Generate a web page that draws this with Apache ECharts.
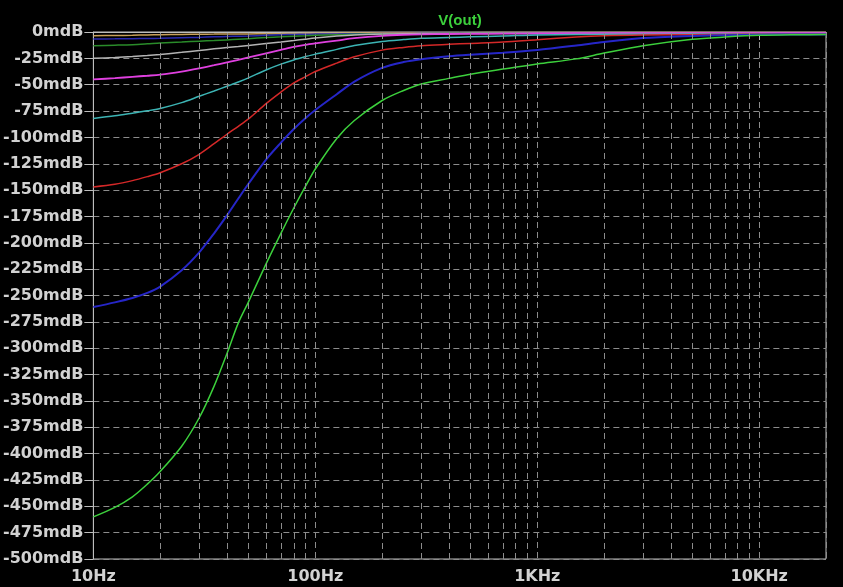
<!DOCTYPE html>
<html><head><meta charset="utf-8">
<script src="https://cdn.jsdelivr.net/npm/echarts@6/dist/echarts.min.js"></script>
<style>html,body{margin:0;padding:0;background:#000;}#c{width:843px;height:587px;}</style>
</head><body><div id="c"></div>
<script>
const freq = [10,12.5,15,17.5,20,25,30,35,40,45,50,60,70,80,90,100,125,150,200,250,300,400,500,700,1000,1500,2000,3000,5000,7000,10000,15000,20000];
const greenVals = [-460,-451,-441,-429,-417,-393,-366,-336,-305,-276,-256,-220,-191,-167,-147,-130,-101,-84,-65,-55.5,-49.3,-44,-40,-35.2,-30.3,-25.5,-20,-13,-6.9,-4.8,-3.2,-2.6,-2.4];
const blueVals = [-261,-256.5,-252.3,-247.5,-241.5,-226,-209,-191,-174,-158,-144,-121,-105,-92,-82,-74,-59,-47,-34,-28.5,-25.8,-23,-21.5,-19.6,-17,-12.8,-9.5,-5.8,-3.8,-3,-2.6,-2.4,-2.3];
const redVals = [-147,-144.5,-141,-137.2,-133.5,-125,-116,-106,-97,-89.5,-82.5,-68,-57,-48.3,-42.6,-37.5,-29.5,-23.5,-17.2,-14.6,-13,-11.7,-10.8,-9.5,-7.3,-4.8,-3.6,-2.9,-2.5,-2.3,-2.2,-2.1,-2.1];
const cyanVals = [-82,-79.5,-77,-74.8,-72.5,-67,-61,-56,-51.5,-47.5,-43.5,-36,-30.5,-26.5,-23.5,-21,-16.5,-12.8,-9,-7.2,-6,-5.2,-4.6,-3.8,-2.8,-2.4,-2.2,-2.1,-2,-2,-2,-2,-2];
const magentaVals = [-45,-43.8,-42.5,-41.5,-40.5,-37.5,-34.4,-31.5,-28.8,-26.4,-24,-20.2,-17,-14.2,-12.2,-10.8,-8.1,-5.9,-3.6,-2.6,-2.2,-1.9,-1.8,-1.6,-1.4,-1.2,-1.1,-1,-1,-1,-1,-1,-1];
const grayVals = [-25,-24.2,-23.3,-22.3,-21.3,-19.3,-17.5,-16,-14.8,-13.8,-12.8,-11,-9.5,-8.1,-6.8,-5.7,-3.9,-2.8,-2,-1.7,-1.5,-1.4,-1.3,-1.2,-1.2,-1.1,-1.1,-1,-1,-1,-1,-1,-1];
const dkGreenVals = [-13,-12.5,-12,-11.2,-10.4,-9.5,-8.7,-8.1,-7.5,-6.9,-6.3,-5.3,-4.6,-4,-3.6,-3.2,-2.6,-2.2,-1.8,-1.7,-1.6,-1.5,-1.5,-1.5,-1.5,-1.5,-1.5,-1.5,-1.5,-1.5,-1.5,-1.5,-1.5];
const navyVals = [-6.6,-6.5,-6.3,-6.1,-6,-5.5,-5.1,-4.6,-4.2,-4,-3.8,-3.1,-2.6,-2.3,-2.1,-2,-1.8,-1.6,-1.5,-1.4,-1.3,-1.3,-1.2,-1.2,-1.2,-1.2,-1.2,-1.2,-1.2,-1.2,-1.2,-1.2,-1.2];
const tanVals = [-3.5,-3.3,-3.1,-2.8,-2.5,-2.3,-2.1,-2,-1.9,-1.85,-1.8,-1.6,-1.5,-1.4,-1.3,-1.2,-1.1,-1,-0.8,-0.7,-0.7,-0.6,-0.6,-0.5,-0.5,-0.5,-0.5,-0.5,-0.5,-0.5,-0.5,-0.5,-0.5];
const xMinorGrid = [20,30,40,50,60,70,80,90,200,300,400,500,600,700,800,900,2000,3000,4000,5000,6000,7000,8000,9000];
const xTickLabels = {10:'10Hz',100:'100Hz',1000:'1KHz',10000:'10KHz'};

const seriesDefs = [
  ['tan', tanVals, '#c8a05a', 1.5],
  ['navy', navyVals, '#2a2ab0', 1.5],
  ['dkgreen', dkGreenVals, '#2a8c2a', 1.5],
  ['gray', grayVals, '#b4b4b4', 1.5],
  ['magenta', magentaVals, '#e040e0', 1.8],
  ['cyan', cyanVals, '#3cb4b4', 1.5],
  ['red', redVals, '#d42828', 1.5],
  ['blue', blueVals, '#2626c8', 2],
  ['green', greenVals, '#3cd03c', 1.5]
];
const fontFam = 'DejaVu Sans';
const labCol = '#d2d2d2';
const gridCol = '#8c8c8c';
const series = seriesDefs.map(function(d){
  return {name:d[0], type:'line', smooth:0.3, showSymbol:false, symbol:'none',
    lineStyle:{color:d[2], width:d[3]}, itemStyle:{color:d[2]},
    data: freq.map(function(f,i){return [f,d[1][i]];}), z:3};
});
series.push({type:'line', data:[], silent:true,
  markLine:{silent:true, symbol:'none', label:{show:false},
    lineStyle:{color:gridCol, type:[6,4], width:1},
    data: xMinorGrid.map(function(v){return {xAxis:v};})}, z:1});
const chart = echarts.init(document.getElementById('c'));
chart.setOption({
  backgroundColor:'#000',
  animation:false,
  title:{text:'V(out)', left:455, top:8, textAlign:'center',
    textStyle:{color:'#3cd03c', fontFamily:'Liberation Sans', fontWeight:'bold', fontSize:15}},
  grid:{left:92, right:17, top:32, bottom:28, show:true, borderColor:'#bdbdbd', borderWidth:1},
  xAxis:{type:'log', logBase:10, min:10, max:20000,
    axisLine:{lineStyle:{color:'#bdbdbd'}},
    axisTick:{show:true, length:8, lineStyle:{color:'#bdbdbd'}},
    splitLine:{show:true, lineStyle:{color:gridCol, type:[6,4], width:1}},
    axisLabel:{color:labCol, fontFamily:fontFam, fontWeight:'bold', fontSize:16, margin:10,
      showMaxLabel:false,
      formatter:function(v){return xTickLabels[Math.round(v)] || '';}}},
  yAxis:{type:'value', min:-500, max:0, interval:25,
    axisLine:{show:true, lineStyle:{color:'#bdbdbd'}},
    axisTick:{show:true, length:9, lineStyle:{color:'#bdbdbd'}},
    splitLine:{show:true, lineStyle:{color:gridCol, type:[6,4], width:1}},
    axisLabel:{color:labCol, fontFamily:fontFam, fontWeight:'bold', fontSize:16, margin:10,
      formatter:function(v){return v + 'mdB';}}},
  series:series
});
</script></body></html>
